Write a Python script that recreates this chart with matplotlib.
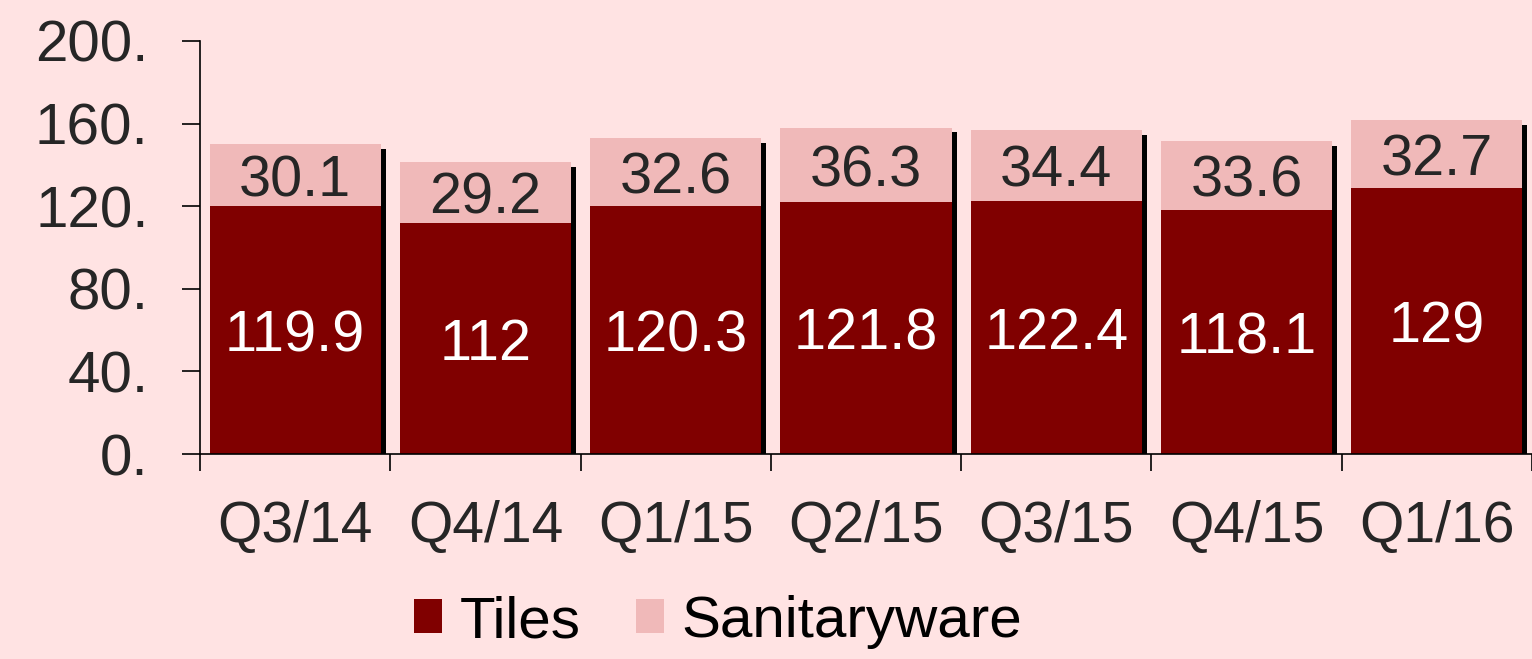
import matplotlib
matplotlib.use('Agg')
import matplotlib.pyplot as plt
import numpy as np

quarters = ['Q3/14', 'Q4/14', 'Q1/15', 'Q2/15', 'Q3/15', 'Q4/15', 'Q1/16']
tiles = [119.9, 112, 120.3, 121.8, 122.4, 118.1, 129]
sanitary = [30.1, 29.2, 32.6, 36.3, 34.4, 33.6, 32.7]
yticks = [0, 40, 80, 120, 160, 200]

bg = '#FFE3E3'
dark_red = '#800000'
pink = '#F0B9B9'
txt = '#262626'

plt.rcParams['font.family'] = ['Liberation Sans', 'DejaVu Sans']

fig = plt.figure(figsize=(15.32, 6.59), dpi=100, facecolor=bg)
ax = fig.add_axes([200 / 1532, (659 - 454) / 659, 1332 / 1532, 413 / 659])
ax.set_facecolor(bg)

x = np.arange(len(quarters))
totals = np.array(tiles) + np.array(sanitary)
w = 0.9

# drop shadow behind each stacked bar
ax.bar(x + 0.026, totals - 2.4, w, color='black', zorder=1)
ax.bar(x, tiles, w, color=dark_red, zorder=2, label='Tiles')
ax.bar(x, sanitary, w, bottom=tiles, color=pink, zorder=2, label='Sanitaryware')

for xi, t, s in zip(x, tiles, sanitary):
    ax.annotate(f'{t:g}', (xi, t / 2), xytext=(0, -4.5), textcoords='offset points',
                ha='center', va='center', color='white', fontsize=41.5, zorder=3)
    ax.annotate(f'{s:g}', (xi, t + s / 2), xytext=(0, -4.5), textcoords='offset points',
                ha='center', va='center', color=txt, fontsize=41.5, zorder=3)

ax.set_xlim(-0.5, len(quarters) - 0.5)
ax.set_ylim(0, 200)

ax.set_yticks(yticks)
ax.set_yticklabels([f'{v}.' for v in yticks])
ax.tick_params(axis='y', length=13, width=1.2, pad=24, labelsize=42,
               labelcolor=txt, color='black')

ax.set_xticks(np.arange(len(quarters) + 1) - 0.5)
ax.set_xticklabels([])
ax.set_xticks(x, minor=True)
ax.set_xticklabels(quarters, minor=True)
ax.tick_params(axis='x', which='major', length=12, width=1.2, color='black')
ax.tick_params(axis='x', which='minor', length=0, pad=33, labelsize=41,
               labelcolor=txt)

for sp in ['top', 'right']:
    ax.spines[sp].set_visible(False)
ax.spines['left'].set_linewidth(1.2)
ax.spines['bottom'].set_linewidth(1.2)

fig.legend(loc='center', bbox_to_anchor=(718 / 1532, 1 - 622 / 659), ncol=2,
           frameon=False, fontsize=42, handlelength=0.48, handleheight=0.52,
           handletextpad=0.3, columnspacing=0.95)

fig.savefig('out.png', dpi=100, facecolor=bg)
